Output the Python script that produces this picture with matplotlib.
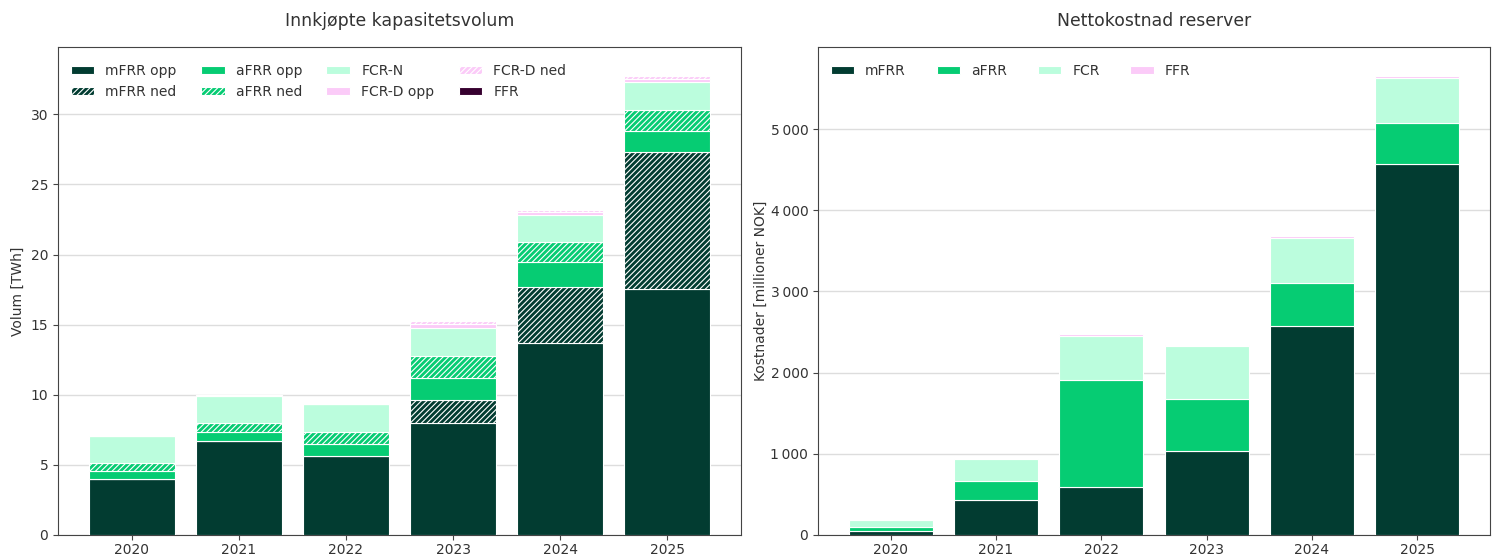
import numpy as np
import matplotlib
matplotlib.use("Agg")
import matplotlib.pyplot as plt
from matplotlib.ticker import FuncFormatter

# Volum per år (TWh)
aar = ["2020", "2021", "2022", "2023", "2024", "2025"]
mfrr_opp = [4.0, 6.7, 5.65, 7.98, 13.66, 17.53]
mfrr_ned = [0.0, 0.0, 0.0, 1.64, 4.04, 9.75]
afrr_opp = [0.57, 0.62, 0.84, 1.58, 1.74, 1.52]
afrr_ned = [0.53, 0.68, 0.83, 1.58, 1.46, 1.50]
fcr_n = [1.98, 1.9, 2.02, 2.0, 1.9, 2.0]
fcr_d_opp = [0.0, 0.03, 0.0, 0.26, 0.2, 0.24]
fcr_d_ned = [0.0, 0.03, 0.0, 0.19, 0.2, 0.2]
ffr_vol = [0.0, 0.0, 0.0, 0.0, 0.0, 0.0]

# Nettokostnad (millioner NOK)
k_mfrr = [53, 431, 595, 1038, 2574, 4573]
k_afrr = [42, 230, 1310, 641, 529, 497]
k_fcr = [93, 271, 546, 649, 555, 554]
k_ffr = [0, 0, 24, 17, 22, 32]

MORK = "#023c31"
GRONN = "#06cc73"
MINT = "#bbfddd"
ROSA = "#fbcbf8"
LILLA = "#36002f"
TEKST = "#333333"

plt.rcParams["hatch.linewidth"] = 0.8
plt.rcParams["font.size"] = 10
plt.rcParams["text.color"] = TEKST
plt.rcParams["axes.labelcolor"] = TEKST
plt.rcParams["xtick.color"] = "#444444"
plt.rcParams["ytick.color"] = "#444444"
plt.rcParams["xtick.labelcolor"] = TEKST
plt.rcParams["ytick.labelcolor"] = TEKST

W, H = 1501, 555
fig = plt.figure(figsize=(W / 100, H / 100), dpi=100)
# akser plassert i piksler: venstre, topp, høyre, bunn
def akse(x0, y0, x1, y1):
    return fig.add_axes([x0 / W, 1 - y1 / H, (x1 - x0) / W, (y1 - y0) / H])

ax1 = akse(58, 47, 741, 535)
ax2 = akse(818, 47, 1490, 535)

x = np.arange(len(aar))
b = 0.8
leg_kw = dict(ncol=4, loc="upper left", frameon=False, handlelength=1.7,
              handleheight=0.5, fontsize=10, bbox_to_anchor=(0.0, 0.99))

# venstre: volum
serier = [
    ("mFRR opp", mfrr_opp, MORK, None),
    ("mFRR ned", mfrr_ned, MORK, "//////"),
    ("aFRR opp", afrr_opp, GRONN, None),
    ("aFRR ned", afrr_ned, GRONN, "//////"),
    ("FCR-N", fcr_n, MINT, None),
    ("FCR-D opp", fcr_d_opp, ROSA, None),
    ("FCR-D ned", fcr_d_ned, ROSA, "//////"),
    ("FFR", ffr_vol, LILLA, None),
]
bunn = np.zeros(len(aar))
for navn, verdi, farge, hatch in serier:
    ax1.bar(x, verdi, b, bottom=bunn, color=farge, edgecolor="white",
            linewidth=0.8, hatch=hatch, label=navn, zorder=3)
    bunn = bunn + np.array(verdi)

ax1.set_xticks(x)
ax1.set_xticklabels(aar)
ax1.set_ylim(0, 34.8)
ax1.set_yticks([0, 5, 10, 15, 20, 25, 30])
ax1.set_ylabel("Volum [TWh]")
ax1.set_title("Innkjøpte kapasitetsvolum", fontsize=12.4, pad=15)
ax1.grid(axis="y", color="#dddddd", linewidth=1, zorder=0)
ax1.legend(columnspacing=1.75, **leg_kw)

# høyre: kostnad
kserier = [
    ("mFRR", k_mfrr, MORK),
    ("aFRR", k_afrr, GRONN),
    ("FCR", k_fcr, MINT),
    ("FFR", k_ffr, ROSA),
]
bunn = np.zeros(len(aar))
for navn, verdi, farge in kserier:
    ax2.bar(x, verdi, b, bottom=bunn, color=farge, edgecolor="white",
            linewidth=0.8, label=navn, zorder=3)
    bunn = bunn + np.array(verdi)

ax2.set_xticks(x)
ax2.set_xticklabels(aar)
ax2.set_ylim(0, 6010)
ax2.set_yticks([0, 1000, 2000, 3000, 4000, 5000])
ax2.yaxis.set_major_formatter(FuncFormatter(lambda v, p: f"{int(v):,}".replace(",", "\u2009")))
ax2.set_ylabel("Kostnader [millioner NOK]", labelpad=2)
ax2.set_title("Nettokostnad reserver", fontsize=12.4, pad=15)
ax2.grid(axis="y", color="#dddddd", linewidth=1, zorder=0)
ax2.legend(columnspacing=2.2, **leg_kw)

for ax in (ax1, ax2):
    ax.tick_params(axis="x", length=3.5, pad=2)
    for s in ax.spines.values():
        s.set_color("#444444")

fig.savefig("out.png", dpi=100)
